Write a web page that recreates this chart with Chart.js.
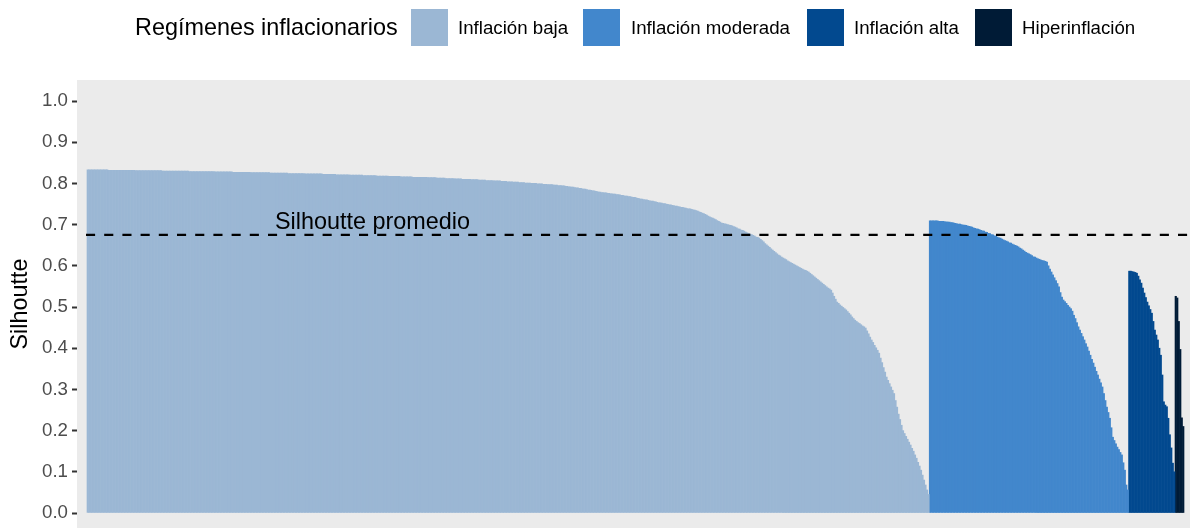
<!DOCTYPE html>
<html><head><meta charset="utf-8">
<script src="https://cdn.jsdelivr.net/npm/chart.js@4/dist/chart.umd.min.js"></script>
<style>
html,body{margin:0;padding:0;background:#fff;}
#wrap{position:relative;width:1190px;height:528px;overflow:hidden;font-family:"Liberation Sans",Arial,sans-serif;color:#000;}
#chart{position:absolute;left:0;top:0;}
.t{position:absolute;top:0;height:55px;line-height:55px;white-space:nowrap;}
.lgt{font-size:23.4px;left:135px;}
.lbl{font-size:18.7px;}
.sw{position:absolute;top:9px;width:37px;height:37px;}
</style></head>
<body>
<div id="wrap">
<canvas id="chart" width="1190" height="528"></canvas>
<div id="legend"></div>
</div>
<script>
const categories = ['Inflación baja', 'Inflación moderada', 'Inflación alta', 'Hiperinflación'];
const legendTitle = 'Regímenes inflacionarios';
const yTitle = 'Silhoutte';
const avgLabel = 'Silhoutte promedio';
const avgSil = 0.675;
const yTicks = [0.0, 0.1, 0.2, 0.3, 0.4, 0.5, 0.6, 0.7, 0.8, 0.9, 1.0];

const lowSil = [
.833,.833,.833,.833,.833,.833,.833,.833,.833,.833,
.833,.833,.833,.833,.832,.832,.832,.832,.832,.832,
.832,.832,.832,.832,.832,.832,.832,.832,.832,.832,
.832,.832,.831,.831,.831,.831,.831,.831,.831,.831,
.831,.831,
.831,.831,.831,.831,.831,.831,.831,.831,.830,.830,
.830,.830,.830,.830,.830,.830,.830,.830,.830,.830,
.830,.830,.830,.830,.830,.830,.829,.829,.829,.829,
.829,.829,.829,.829,.829,.829,.829,.829,
.829,.829,.829,.829,.829,.828,.828,.828,.828,.828,
.828,.828,.828,.828,.828,.828,.828,.827,.827,.827,
.827,.827,.827,.827,.827,.827,.827,.827,.827,.826,
.826,.826,.826,.826,.826,
.826,.826,.826,.826,.826,.826,.826,.825,.825,.825,
.825,.825,.825,.825,.825,.825,.825,.825,.825,.824,
.824,.824,.824,.824,.824,.824,.824,.824,.824,.824,
.823,.823,.823,.823,.823,.823,.823,.823,
.823,.823,.823,.823,.822,.822,.822,.822,.822,.822,
.822,.822,.822,.821,.821,.821,.821,.821,.821,.821,
.821,.821,.820,.820,.820,.820,.820,.820,.820,.820,
.820,.819,.819,.819,.819,.819,
.819,.819,.819,.819,.818,.818,.818,.818,.818,.818,
.818,.818,.817,.817,.817,.817,.817,.817,.817,.817,
.816,.816,.816,.816,.816,.816,.816,.816,.815,.815,
.815,.815,.815,.815,.815,
.815,.815,.815,.814,.814,.814,.814,.814,.814,.813,
.813,.813,.813,.813,.813,.812,.812,.812,.812,.812,
.812,.811,.811,.811,.811,.811,.810,.810,.810,.810,
.810,.810,.809,.809,.809,.809,.809,.808,.808,.808,
.808,.808,.807,.807,.807,
.807,.807,.806,.806,.806,.806,.806,.805,.805,.805,
.805,.804,.804,.804,.804,.803,.803,.803,.803,.802,
.802,.802,.802,.801,.801,.801,
.801,.800,.800,.800,.800,.799,.799,.799,.799,.798,
.798,.798,.797,.797,.797,.797,.796,.796,
.796,.795,.795,.795,.794,.794,.793,.793,.792,.792,
.791,.791,.790,.789,.789,.788,.788,.787,.786,.786,
.785,.784,
.784,.783,.782,.782,.781,.780,.779,
.779,.778,.778,.777,.777,.776,.776,.775,.775,.774,
.774,.773,.773,.772,.771,.771,.770,.769,.769,.768,
.768,.767,.766,.766,.765,.764,.763,.762,.762,.761,
.760,.760,.759,.758,.757,.757,.756,.755,.754,.753,
.753,.752,.751,.751,.750,.749,.748,.748,.747,.746,
.745,.745,.744,.743,.742,.742,.741,.740,.739,.738,
.738,.737,.736,.735,.734,.733,.731,.730,.728,
.727,.725,.723,.721,.719,.717,
.716,.714,.712,.710,.708,.706,.704,
.703,.702,.701,.700,.699,.698,.697,.695,
.694,.692,.690,.689,.687,.686,.684,.682,.680,
.679,.677,.676,.674,.672,.670,.669,.667,
.664,.661,.658,.654,.651,.648,.645,.641,.638,.635,.632,.629,.626,
.624,.621,.619,.617,.615,.612,.610,.608,.606,.604,.602,
.600,.598,.596,.594,.592,.590,.589,.587,.585,
.582,.579,.576,.573,.570,.567,.564,.561,.558,
.555,.552,.549,.546,.544,.541,
.534,.526,.519,.512,
.509,.505,.502,.499,.496,.493,
.489,.485,.481,.476,.472,.468,
.465,.462,.460,.457,.454,.452,.449,
.442,.435,.427,.420,
.414,.407,.401,.395,.388,
.376,.365,.353,.342,.330,
.322,.314,.306,.298,.290,
.273,.257,.240,
.227,.213,.200,
.193,.186,.179,.172,
.165,.157,.150,
.141,.133,
.123,.114,.104,
.092,.080,
.068,.056,
.045
];

const modSil = [
.709,.709,.709,.709,.709,.709,.708,.708,.708,.708,.707,.707,.706,.706,.705,.705,.704,.703,.702,.701,
.701,.700,.699,.699,.698,.697,.696,
.695,.694,.692,.691,.690,.689,.688,.686,.685,.684,.682,
.681,.679,.678,.676,.675,.673,.672,.670,.668,.667,.665,
.663,.661,.660,.658,.656,.655,.653,.651,.650,.648,.646,
.643,.641,.638,.636,.633,.631,.629,.627,.625,.622,
.621,.619,.617,.616,.614,.613,.612,.611,.609,
.600,.592,.585,
.578,.571,.564,.557,.549,
.535,.524,
.517,.513,.509,.504,.500,.496,
.490,.480,.472,
.462,.452,
.444,.436,.428,
.420,.411,
.403,.393,.383,.373,
.364,.354,.344,
.335,.325,.316,
.306,.290,.273,
.257,.244,
.230,.207,
.184,.176,.168,
.160,.154,.147,
.141,.122,
.104,
.068,
.056
];

const highSil = [
.587,.587,.586,.585,.584,
.582,.575,.566,
.558,.546,
.534,.523,
.512,.503,.494,
.485,.465,
.444,.432,
.420,.400,
.383,
.335,
.270,
.262,.258,
.230,.190,
.158,
.121,
.100
];

const hyperSil = [.526,.522,.465,.397,.231,.210];

const colors = ['#9bb7d4', '#4287cc', '#02498f', '#001b36'];
const FONT = '"Liberation Sans", Arial, sans-serif';

// Legend (HTML)
const legendPos = [[411, 458], [583, 631], [807, 854], [975, 1022]];
const lg = document.getElementById('legend');
let html = '<div class="t lgt">' + legendTitle + '</div>';
categories.forEach((c, i) => {
  html += '<div class="sw" style="left:' + legendPos[i][0] + 'px;background:' + colors[i] + '"></div>';
  html += '<div class="t lbl" style="left:' + legendPos[i][1] + 'px">' + c + '</div>';
});
lg.innerHTML = html;

// Build datasets: consecutive observation index on x
const series = [lowSil, modSil, highSil, hyperSil];
let offset = 0;
const datasets = series.map((arr, k) => {
  const pts = arr.map((v, i) => ({x: offset + i, y: v}));
  offset += arr.length;
  return {
    label: categories[k], data: pts, backgroundColor: colors[k],
    borderWidth: 0, barPercentage: 1, categoryPercentage: 1, grouped: false
  };
});
const nObs = offset;
const labelX = 190;

const panelBg = {
  id: 'panelBg',
  beforeDraw(c) {
    const {ctx, chartArea: a} = c;
    ctx.save();
    ctx.fillStyle = '#ebebeb';
    ctx.fillRect(a.left, a.top, a.right - a.left, a.bottom - a.top);
    ctx.restore();
  }
};
const avgLine = {
  id: 'avgLine',
  afterDatasetsDraw(c) {
    const {ctx, chartArea: a} = c;
    const y = c.scales.y.getPixelForValue(avgSil);
    ctx.save();
    ctx.strokeStyle = '#000';
    ctx.lineWidth = 2.2;
    ctx.setLineDash([9.1, 9.1]);
    ctx.lineDashOffset = 9.2;
    ctx.beginPath();
    ctx.moveTo(a.left, y);
    ctx.lineTo(a.right, y);
    ctx.stroke();
    ctx.setLineDash([]);
    ctx.fillStyle = '#000';
    ctx.font = '23.4px ' + FONT;
    ctx.textAlign = 'center';
    ctx.textBaseline = 'middle';
    ctx.fillText(avgLabel, c.scales.x.getPixelForValue(labelX), c.scales.y.getPixelForValue(avgSil + 0.03));
    ctx.restore();
  }
};

new Chart(document.getElementById('chart'), {
  type: 'bar',
  data: {datasets},
  options: {
    responsive: false, animation: false, devicePixelRatio: 1,
    layout: {padding: {top: 80, left: 0, right: 0, bottom: 0}},
    plugins: {legend: {display: false}, tooltip: {enabled: false}},
    scales: {
      x: {type: 'linear', display: false, offset: false, min: -7.17, max: nObs - 0.5 + 4.0,
          ticks: {stepSize: 1000}},
      y: {
        min: -0.0364, max: 1.051,
        afterBuildTicks: s => { s.ticks = yTicks.map(v => ({value: v})); },
        afterFit: s => { s.width = 77; s.paddingTop = 0; s.paddingBottom = 0; },
        ticks: {callback: v => Number(v).toFixed(1), color: '#4d4d4d', font: {family: FONT, size: 18.7}, padding: 4},
        grid: {drawOnChartArea: false, drawTicks: true, tickLength: 5, tickColor: '#333333', tickWidth: 2},
        border: {display: false},
        title: {display: true, text: yTitle, color: '#000', font: {family: FONT, size: 23.4}, padding: {top: 7, bottom: 0}}
      }
    }
  },
  plugins: [panelBg, avgLine]
});
</script>
</body></html>
